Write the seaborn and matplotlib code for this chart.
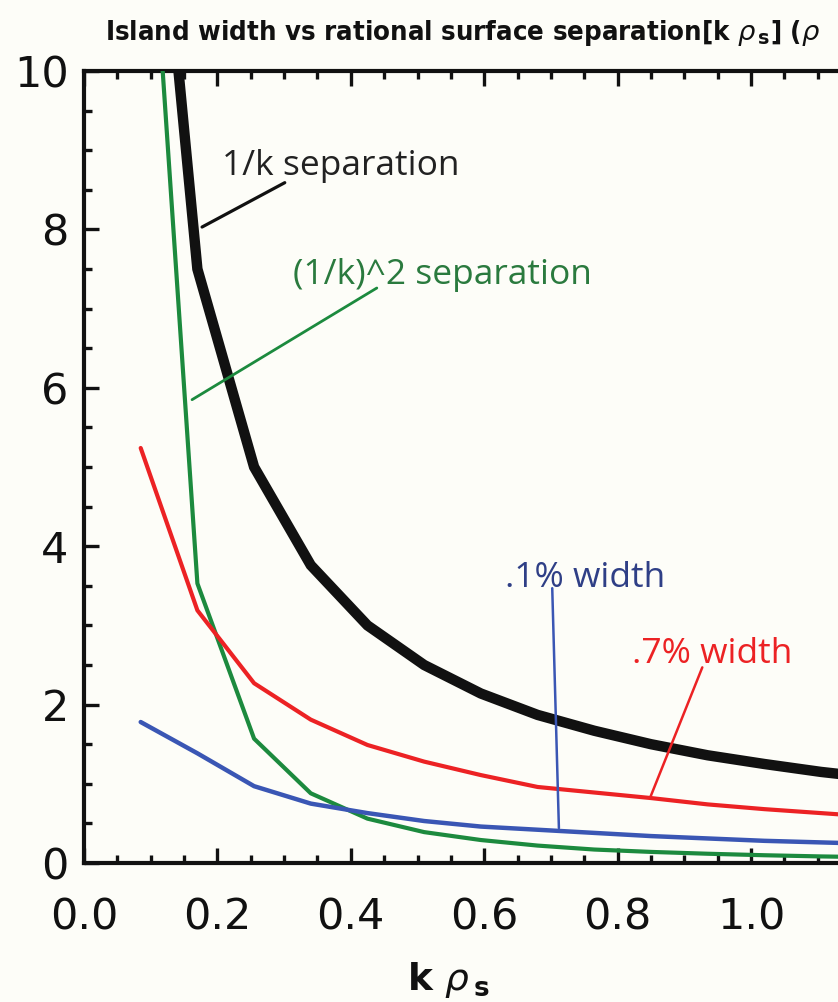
import matplotlib
matplotlib.use("Agg")
import matplotlib.pyplot as plt
from matplotlib.ticker import MultipleLocator
import seaborn as sns
import pandas as pd

# ---- data ----
k_rho = [0.085, 0.17, 0.255, 0.34, 0.425, 0.51, 0.595, 0.68, 0.765, 0.85, 0.935, 1.02, 1.105, 1.19]
sep_1k = [15.0, 7.5, 5.0, 3.76, 3.0, 2.5, 2.14, 1.87, 1.67, 1.5, 1.36, 1.25, 1.15, 1.07]
sep_1k2 = [14.1, 3.53, 1.57, 0.88, 0.56, 0.39, 0.29, 0.22, 0.17, 0.14, 0.117, 0.098, 0.083, 0.072]
width_07 = [5.24, 3.19, 2.27, 1.81, 1.49, 1.28, 1.11, 0.96, 0.89, 0.82, 0.74, 0.68, 0.63, 0.58]
width_01 = [1.78, 1.385, 0.97, 0.75, 0.63, 0.53, 0.46, 0.42, 0.38, 0.34, 0.31, 0.28, 0.26, 0.24]

x_ticks = [0.0, 0.2, 0.4, 0.6, 0.8, 1.0]
x_tick_labels = ["0.0", "0.2", "0.4", "0.6", "0.8", "1.0"]
y_ticks = [0, 2, 4, 6, 8, 10]
y_tick_labels = ["0", "2", "4", "6", "8", "10"]

title_text = r"Island width vs rational surface separation[k $\rho_{\,\mathbf{s}}$] ($\rho$"
xlabel_text = r"k $\rho_{\,\mathbf{s}}$"

df = pd.DataFrame({"k": k_rho, "sep1": sep_1k, "sep2": sep_1k2,
                   "w07": width_07, "w01": width_01})

sns.set_style("ticks")
plt.rcParams["font.family"] = ["DejaVu Sans"]
plt.rcParams["mathtext.fontset"] = "dejavusans"

BG = "#fdfdf8"
fig = plt.figure(figsize=(8.38, 10.02), dpi=100, facecolor=BG)
W, H = 838.0, 1002.0
ax_left, ax_right, ax_top, ax_bot = 84.0, 884.4, 71.0, 863.0
ax = fig.add_axes([ax_left / W, 1 - ax_bot / H, (ax_right - ax_left) / W, (ax_bot - ax_top) / H])
ax.set_facecolor(BG)

C_BLACK = "#111111"
C_GREEN = "#1c8a3e"
C_RED = "#ec2224"
C_BLUE = "#3a56b4"

sns.lineplot(data=df, x="k", y="sep1", ax=ax, color=C_BLACK, lw=7.5, solid_joinstyle="miter", zorder=3)
sns.lineplot(data=df, x="k", y="sep2", ax=ax, color=C_GREEN, lw=3.0, zorder=4)
sns.lineplot(data=df, x="k", y="w07", ax=ax, color=C_RED, lw=3.0, zorder=4)
sns.lineplot(data=df, x="k", y="w01", ax=ax, color=C_BLUE, lw=3.2, zorder=4)

ax.set_xlim(0, 1.2)
ax.set_ylim(0, 10)
ax.set_xticks(x_ticks)
ax.set_xticklabels(x_tick_labels)
ax.set_yticks(y_ticks)
ax.set_yticklabels(y_tick_labels)
ax.xaxis.set_minor_locator(MultipleLocator(0.05))
ax.yaxis.set_minor_locator(MultipleLocator(0.5))

for s in ax.spines.values():
    s.set_linewidth(3.0)
    s.set_color("#111111")

ax.tick_params(which="both", direction="in", top=True, right=True, color="#111111", width=2.4)
ax.tick_params(which="major", length=11)
ax.tick_params(which="minor", length=5.5)
ax.tick_params(axis="x", which="major", labelsize=31, pad=24, labelcolor="#111111")
ax.tick_params(axis="y", which="major", labelsize=31, pad=11, labelcolor="#111111")

ax.set_xlabel(xlabel_text, fontsize=27, fontweight="bold", color="#111111")
ax.xaxis.set_label_coords(0.455, -0.122)
ax.set_ylabel("")

fig.text(105 / W, 1 - 40 / H, title_text, fontsize=19.7, fontweight="bold",
         ha="left", va="baseline", color="#111111", fontstretch="condensed")

# ---- annotations ----
ann_font = ["Open Sans", "DejaVu Sans"]
def label(px, py, text, color):
    fig.text(px / W, 1 - py / H, text, fontsize=25.5, family=ann_font, color=color,
             ha="left", va="baseline")

def leader(p0, p1, color, lw=2.0):
    ax.annotate("", xy=p1, xytext=p0, xycoords="data", textcoords="data",
                arrowprops=dict(arrowstyle="-", color=color, lw=lw, shrinkA=0, shrinkB=0),
                zorder=5)

label(222, 175, "1/k separation", "#222222")
leader((0.301, 8.59), (0.177, 8.03), C_BLACK, 2.3)

label(293, 284, "(1/k)^2 separation", "#2a7a3e")
leader((0.439, 7.26), (0.162, 5.85), C_GREEN, 2.0)

label(505, 587, ".1% width", "#2f3f86")
leader((0.702, 3.47), (0.712, 0.44), C_BLUE, 1.8)

label(632, 663, ".7% width", C_RED)
leader((0.927, 2.47), (0.849, 0.83), C_RED, 1.8)

fig.savefig("out.png", dpi=100, facecolor=BG)
